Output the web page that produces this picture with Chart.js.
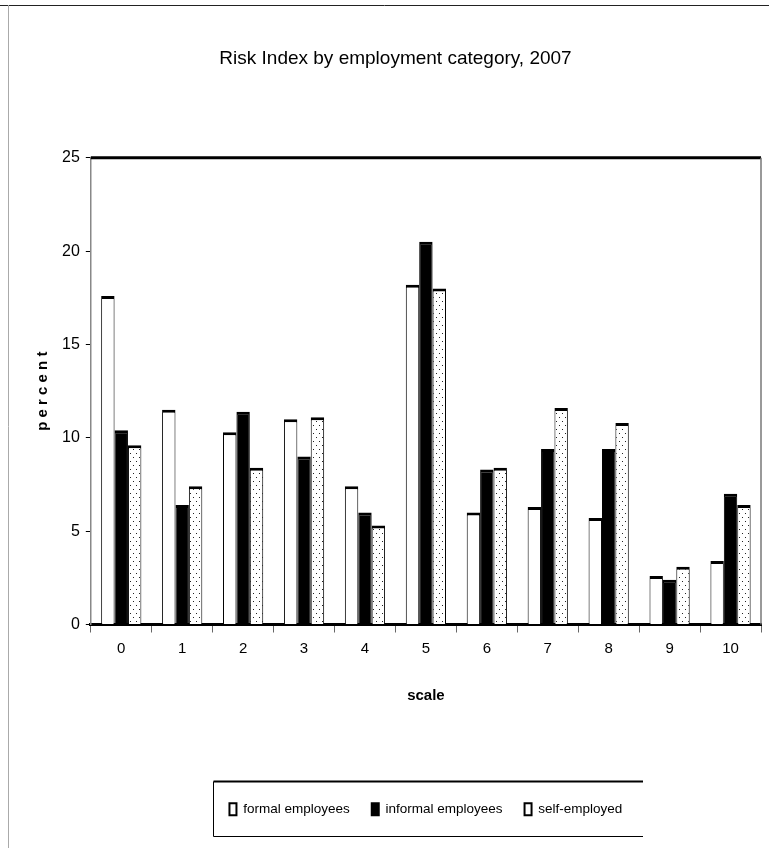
<!DOCTYPE html>
<html><head><meta charset="utf-8">
<script src="https://cdn.jsdelivr.net/npm/chart.js@4/dist/chart.umd.min.js"></script>
<style>html,body{margin:0;padding:0;background:#fff;}#wrap{width:769px;height:848px;position:relative;}</style>
</head><body><div id="wrap"><canvas id="c" width="769" height="848"></canvas></div>
<script>
const categories = ['0','1','2','3','4','5','6','7','8','9','10'];
const formalEmployees = [17.6, 11.5, 10.3, 11.0, 7.4, 18.2, 6.0, 6.3, 5.7, 2.6, 3.4];
const informalEmployees = [10.4, 6.4, 11.4, 9.0, 6.0, 20.5, 8.3, 9.4, 9.4, 2.4, 7.0];
const selfEmployed = [9.6, 7.4, 8.4, 11.1, 5.3, 18.0, 8.4, 11.6, 10.8, 3.1, 6.4];
const seriesNames = ['formal employees', 'informal employees', 'self-employed'];
const yTicks = [0, 5, 10, 15, 20, 25];

const FONT = '"Liberation Sans Narrow", "Liberation Sans", Arial, sans-serif';

function dotPattern() {
  const p = document.createElement('canvas');
  p.width = 6; p.height = 8;
  const g = p.getContext('2d');
  g.fillStyle = '#fff'; g.fillRect(0, 0, 6, 8);
  g.fillStyle = '#222';
  g.fillRect(1, 1, 1, 1);
  g.fillRect(4, 5, 1, 1);
  return document.getElementById('c').getContext('2d').createPattern(p, 'repeat');
}
const dots = dotPattern();

const frame = {
  id: 'frame',
  beforeDraw(chart) {
    const ctx = chart.ctx;
    ctx.save();
    ctx.fillStyle = '#fff';
    ctx.fillRect(0, 0, chart.width, chart.height);
    ctx.strokeStyle = '#222'; ctx.lineWidth = 1;
    ctx.beginPath(); ctx.moveTo(0, 5.5); ctx.lineTo(chart.width, 5.5); ctx.stroke();
    ctx.strokeStyle = '#aaa';
    ctx.beginPath(); ctx.moveTo(8.5, 5); ctx.lineTo(8.5, chart.height); ctx.stroke();
    ctx.restore();
  },
  afterDraw(chart) {
    const ctx = chart.ctx, a = chart.chartArea;
    ctx.save();
    ctx.strokeStyle = '#000'; ctx.lineWidth = 3;
    ctx.beginPath(); ctx.moveTo(a.left, a.top); ctx.lineTo(a.right, a.top); ctx.stroke();
    ctx.strokeStyle = '#777'; ctx.lineWidth = 1.5;
    ctx.beginPath(); ctx.moveTo(a.right, a.top); ctx.lineTo(a.right, a.bottom); ctx.stroke();
    // legend box
    const lg = chart.legend;
    if (lg && lg.legendHitBoxes && lg.legendHitBoxes.length) {
      const hb = lg.legendHitBoxes;
      const x0 = 213.5, x1 = 643;
      const cy = hb[0].top + hb[0].height / 2;
      const y0 = Math.round(cy - 28) + 0.5, y1 = Math.round(cy + 27) + 0.5;
      ctx.strokeStyle = '#000'; ctx.lineWidth = 2;
      ctx.beginPath(); ctx.moveTo(x0, y0); ctx.lineTo(x1, y0); ctx.stroke();
      ctx.lineWidth = 1;
      ctx.beginPath(); ctx.moveTo(x0, y0); ctx.lineTo(x0, y1); ctx.lineTo(x1, y1); ctx.stroke();
    }
    ctx.restore();
  }
};

const bw = {top: 3, left: 1, right: 1, bottom: 0};
new Chart(document.getElementById('c'), {
  type: 'bar',
  data: {
    labels: categories,
    datasets: [
      {label: seriesNames[0], data: formalEmployees, backgroundColor: '#fff', borderColor: '#000', borderWidth: bw, borderSkipped: false},
      {label: seriesNames[1], data: informalEmployees, backgroundColor: '#000', borderColor: '#000', borderWidth: bw, borderSkipped: false},
      {label: seriesNames[2], data: selfEmployed, backgroundColor: dots, borderColor: '#000', borderWidth: bw, borderSkipped: false}
    ]
  },
  options: {
    responsive: false,
    animation: false,
    devicePixelRatio: 1,
    layout: {padding: {left: 30, right: 8, top: 0, bottom: 22}},
    datasets: {bar: {categoryPercentage: 0.66, barPercentage: 1.0}},
    plugins: {
      title: {display: true, text: 'Risk Index by employment category, 2007', color: '#000',
        font: {family: FONT, size: 19, weight: 'normal'}, padding: {top: 47, bottom: 88}},
      legend: {display: true, position: 'bottom', fullSize: false,
        labels: {boxWidth: 7, boxHeight: 12, color: '#000', padding: 22,
          font: {family: FONT, size: 13.5},
          generateLabels(chart) {
            return chart.data.datasets.map((d, i) => ({
              text: d.label, fillStyle: i === 2 ? '#fff' : d.backgroundColor,
              strokeStyle: '#000', lineWidth: 2, datasetIndex: i
            }));
          }}},
      tooltip: {enabled: false}
    },
    scales: {
      x: {
        offset: true,
        grid: {display: true, offset: true, drawOnChartArea: false, drawTicks: true, tickLength: 8, color: '#666', lineWidth: 1},
        border: {display: true, color: '#000', width: 3},
        ticks: {color: '#000', font: {family: FONT, size: 15}, padding: 7},
        title: {display: true, text: 'scale', color: '#000', font: {family: 'Liberation Sans, Arial, sans-serif', size: 15, weight: 'bold'}, padding: {top: 22, bottom: 76}}
      },
      y: {
        min: 0, max: 25,
        afterBuildTicks(scale) { scale.ticks = yTicks.map(v => ({value: v})); },
        grid: {display: true, drawOnChartArea: false, drawTicks: true, tickLength: 5, color: '#000'},
        border: {display: true, color: '#888', width: 1.5},
        ticks: {color: '#000', font: {family: FONT, size: 16}, padding: 6},
        title: {display: true, text: 'p e r c e n t', color: '#000', font: {family: 'Liberation Sans, Arial, sans-serif', size: 15, weight: 'bold'}, padding: {top: 4, bottom: 4}}
      }
    }
  },
  plugins: [frame]
});
</script></body></html>
